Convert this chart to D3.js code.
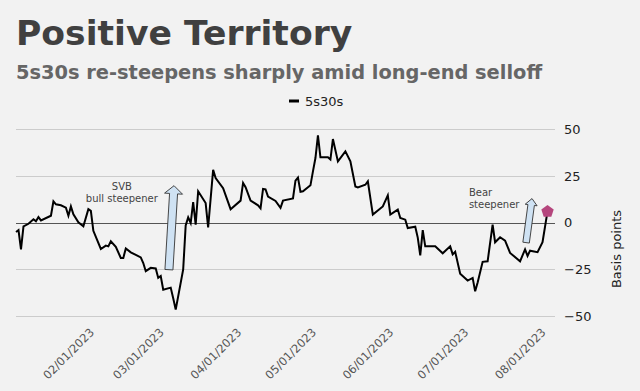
<!DOCTYPE html>
<html><head><meta charset="utf-8">
<script src="https://cdn.jsdelivr.net/npm/d3@7"></script>
<style>
html,body{margin:0;padding:0;background:#f2f2f2;}
svg{display:block;font-family:"DejaVu Sans",Verdana,sans-serif;}
</style>
</head><body>
<svg id="chart" width="640" height="391"></svg>
<script>
const titleText = "Positive Territory";
const subtitleText = "5s30s re-steepens sharply amid long-end selloff";
const seriesName = "5s30s";
const yAxisTitle = "Basis points";

const dates = [
"2023-01-01","2023-01-02","2023-01-03","2023-01-04","2023-01-06","2023-01-08","2023-01-09","2023-01-10","2023-01-11","2023-01-15",
"2023-01-16","2023-01-17","2023-01-19","2023-01-21","2023-01-22","2023-01-23","2023-01-24","2023-01-26","2023-01-28","2023-01-30",
"2023-01-31","2023-02-01","2023-02-04","2023-02-06","2023-02-07","2023-02-08","2023-02-10","2023-02-12","2023-02-13","2023-02-14",
"2023-02-16","2023-02-20","2023-02-21","2023-02-22","2023-02-24","2023-02-26","2023-02-27","2023-02-28","2023-03-01","2023-03-04",
"2023-03-05","2023-03-06","2023-03-09","2023-03-10","2023-03-11","2023-03-12","2023-03-13","2023-03-14","2023-03-15","2023-03-18",
"2023-03-19","2023-03-21","2023-03-22","2023-03-25","2023-03-28","2023-04-01","2023-04-02","2023-04-03","2023-04-05","2023-04-08",
"2023-04-09","2023-04-10","2023-04-11","2023-04-12","2023-04-15","2023-04-17","2023-04-18","2023-04-22","2023-04-23","2023-04-24",
"2023-04-25","2023-04-26","2023-04-29","2023-04-30","2023-05-01","2023-05-02","2023-05-03","2023-05-06","2023-05-07","2023-05-08",
"2023-05-10","2023-05-13","2023-05-15","2023-05-17","2023-05-18","2023-05-21","2023-05-22","2023-05-24","2023-05-28","2023-05-30",
"2023-05-31","2023-06-03","2023-06-04","2023-06-06","2023-06-07","2023-06-10","2023-06-11","2023-06-12","2023-06-13","2023-06-14",
"2023-06-18","2023-06-21","2023-06-24","2023-06-25","2023-06-26","2023-06-28","2023-07-01","2023-07-03","2023-07-04","2023-07-05",
"2023-07-07","2023-07-09","2023-07-11","2023-07-12","2023-07-14","2023-07-16","2023-07-18","2023-07-22","2023-07-24","2023-07-25",
"2023-07-26","2023-07-29","2023-07-31","2023-08-02"
];
const values = [
-5,-4,-14.3,-2,-0.6,1.8,0.7,3,1.2,3.7,
11.4,9.8,9.3,8,3.7,8.7,4.5,0.2,-2,7.2,
6.3,-4.4,-14.1,-12.3,-12.7,-10,-13,-18.9,-18.9,-13.8,
-15.9,-18.6,-21.6,-26,-24.2,-24.5,-29.6,-28.6,-35.9,-34.8,
-40.5,-46.6,-25,-1.5,2.8,-0.2,11,-1.1,16.8,10.5,
-2.6,28.3,23.9,18.5,7.2,11.8,21.3,19,11.8,9.3,
7.7,18.1,17.8,14,11.6,7.9,11.8,13,22.5,24.1,
16.5,16.8,20,27.5,34.6,46.8,35,35,33.8,44.8,
32.8,38.2,32.8,19.4,18.9,20.3,22.1,4.3,8.7,14.6,
4.3,7,2.5,1.6,-2.9,-2.2,-8,-17.5,-4,-12.7,
-12.7,-16.4,-12.7,-17,-15.6,-27.4,-31,-29.6,-36.8,-32,
-21,-20.7,-1.1,-10.5,-7.8,-9.6,-16.2,-20.7,-14.3,-17.8,
-15,-15.8,-10.5,6
];
const yTicks = [-50, -25, 0, 25, 50];
const xTickDates = ["2023-02-01","2023-03-01","2023-04-01","2023-05-01","2023-06-01","2023-07-01","2023-08-01"];

// annotations (data coordinates)
const arrowNames = ["svb", "bear"];
const arrowFrom = [["2023-03-03T07:00", -25.2], ["2023-07-24T10:00", -10.7]];
const arrowTo   = [["2023-03-05T08:00", 19.8], ["2023-07-26T19:00", 12.9]];
const noteLines = [["SVB", "bull steepener"], ["Bear", "steepener"]];
const noteAnchor = [["2023-02-12T10:00", 17.3], ["2023-07-01T12:00", 14.4]];

const W = 640, H = 391;
const svg = d3.select("#chart");
const parse = d3.timeParse("%Y-%m-%d");

const x = d3.scaleTime()
  .domain([new Date(2023, 0, 1), new Date(2023, 7, 5)])
  .range([16, 555]);
const y = d3.scaleLinear().domain([-50, 50]).range([316, 129.3]);

// Title & subtitle
svg.append("text").attr("x", 16).attr("y", 45)
  .attr("font-size", 34.6).attr("font-weight", "bold").attr("fill", "#404040")
  .text(titleText);
svg.append("text").attr("x", 16).attr("y", 79)
  .attr("font-size", 19.4).attr("font-weight", "bold").attr("fill", "#666666")
  .text(subtitleText);

// Legend
const lg = svg.append("g").attr("transform", "translate(289,101)");
lg.append("line").attr("x1", 0).attr("x2", 10).attr("y1", 0).attr("y2", 0)
  .attr("stroke", "#000").attr("stroke-width", 3);
lg.append("text").attr("x", 16).attr("y", 5).attr("font-size", 13).attr("fill", "#222")
  .text(seriesName);

// Gridlines
svg.append("g").selectAll("line").data(yTicks).join("line")
  .attr("x1", 16).attr("x2", 555)
  .attr("y1", d => Math.round(y(d)) + 0.5).attr("y2", d => Math.round(y(d)) + 0.5)
  .attr("stroke", d => d === 0 ? "#555" : "#cccccc").attr("stroke-width", 1);

// Y axis (right)
const yAxis = svg.append("g").attr("transform", "translate(555,0)")
  .call(d3.axisRight(y).tickValues(yTicks).tickSize(0).tickPadding(9).tickFormat(d3.format("d")));
yAxis.select(".domain").remove();
yAxis.selectAll("text").attr("font-size", 13).attr("fill", "#222")
  .attr("font-family", "DejaVu Sans, Verdana, sans-serif");

svg.append("text")
  .attr("transform", "translate(621,249) rotate(-90)")
  .attr("text-anchor", "middle").attr("font-size", 13).attr("fill", "#222")
  .text(yAxisTitle);

// X axis
const xAxis = svg.append("g").attr("transform", "translate(0,316)")
  .call(d3.axisBottom(x).tickValues(xTickDates.map(parse)).tickSize(0)
    .tickFormat(d3.timeFormat("%m/%d/%Y")));
xAxis.select(".domain").remove();
xAxis.selectAll("text")
  .attr("x", 0).attr("y", 0).attr("dy", 0)
  .attr("transform", "translate(1,17) rotate(-45)")
  .style("text-anchor", "end")
  .attr("font-size", 11.5).attr("fill", "#555")
  .attr("font-family", "DejaVu Sans, Verdana, sans-serif");

// Line
const series = dates.map((d, i) => ({ date: parse(d), value: values[i] }));
const line = d3.line().x(d => x(d.date)).y(d => y(d.value));
svg.append("path").datum(series)
  .attr("d", line).attr("fill", "none")
  .attr("stroke", "#000").attr("stroke-width", 2).attr("stroke-linejoin", "miter");

// Arrows
const arrowSpec = { svb: { sw: 8, hw: 18, hl: 8 }, bear: { sw: 6.5, hw: 12, hl: 6.5 } };
arrowNames.forEach((name, i) => {
  const b = [x(new Date(arrowFrom[i][0])), y(arrowFrom[i][1])];
  const t = [x(new Date(arrowTo[i][0])), y(arrowTo[i][1])];
  const dx = t[0] - b[0], dy = t[1] - b[1];
  const len = Math.hypot(dx, dy);
  const u = [dx / len, dy / len], n = [-u[1], u[0]];
  const s = arrowSpec[name];
  const neck = [t[0] - u[0] * s.hl, t[1] - u[1] * s.hl];
  const p = (o, k) => [o[0] + n[0] * k, o[1] + n[1] * k];
  const pts = [p(b, -s.sw / 2), p(neck, -s.sw / 2), p(neck, -s.hw / 2), t,
               p(neck, s.hw / 2), p(neck, s.sw / 2), p(b, s.sw / 2)];
  svg.append("polygon").attr("points", pts.map(q => q.join(",")).join(" "))
    .attr("fill", "#cfe2f3").attr("stroke", "#333").attr("stroke-width", 0.9)
    .attr("stroke-linejoin", "miter");
});

// Notes
noteLines.forEach((lines, i) => {
  const ax = x(new Date(noteAnchor[i][0])), ay = y(noteAnchor[i][1]);
  const t = svg.append("text").attr("font-size", 10).attr("fill", "#444")
    .attr("text-anchor", i === 0 ? "middle" : "start");
  lines.forEach((l, j) => t.append("tspan").attr("x", ax).attr("y", ay + j * 12).text(l));
});

// End marker (pentagon)
const last = series[series.length - 1];
const cx = x(last.date), cy = y(last.value), r = 6.5;
const pent = d3.range(5).map(k => {
  const a = -Math.PI / 2 + k * 2 * Math.PI / 5;
  return [cx + r * Math.cos(a), cy + r * Math.sin(a)];
});
svg.append("polygon").attr("points", pent.map(q => q.join(",")).join(" "))
  .attr("fill", "#b5467d");
</script>
</body></html>
